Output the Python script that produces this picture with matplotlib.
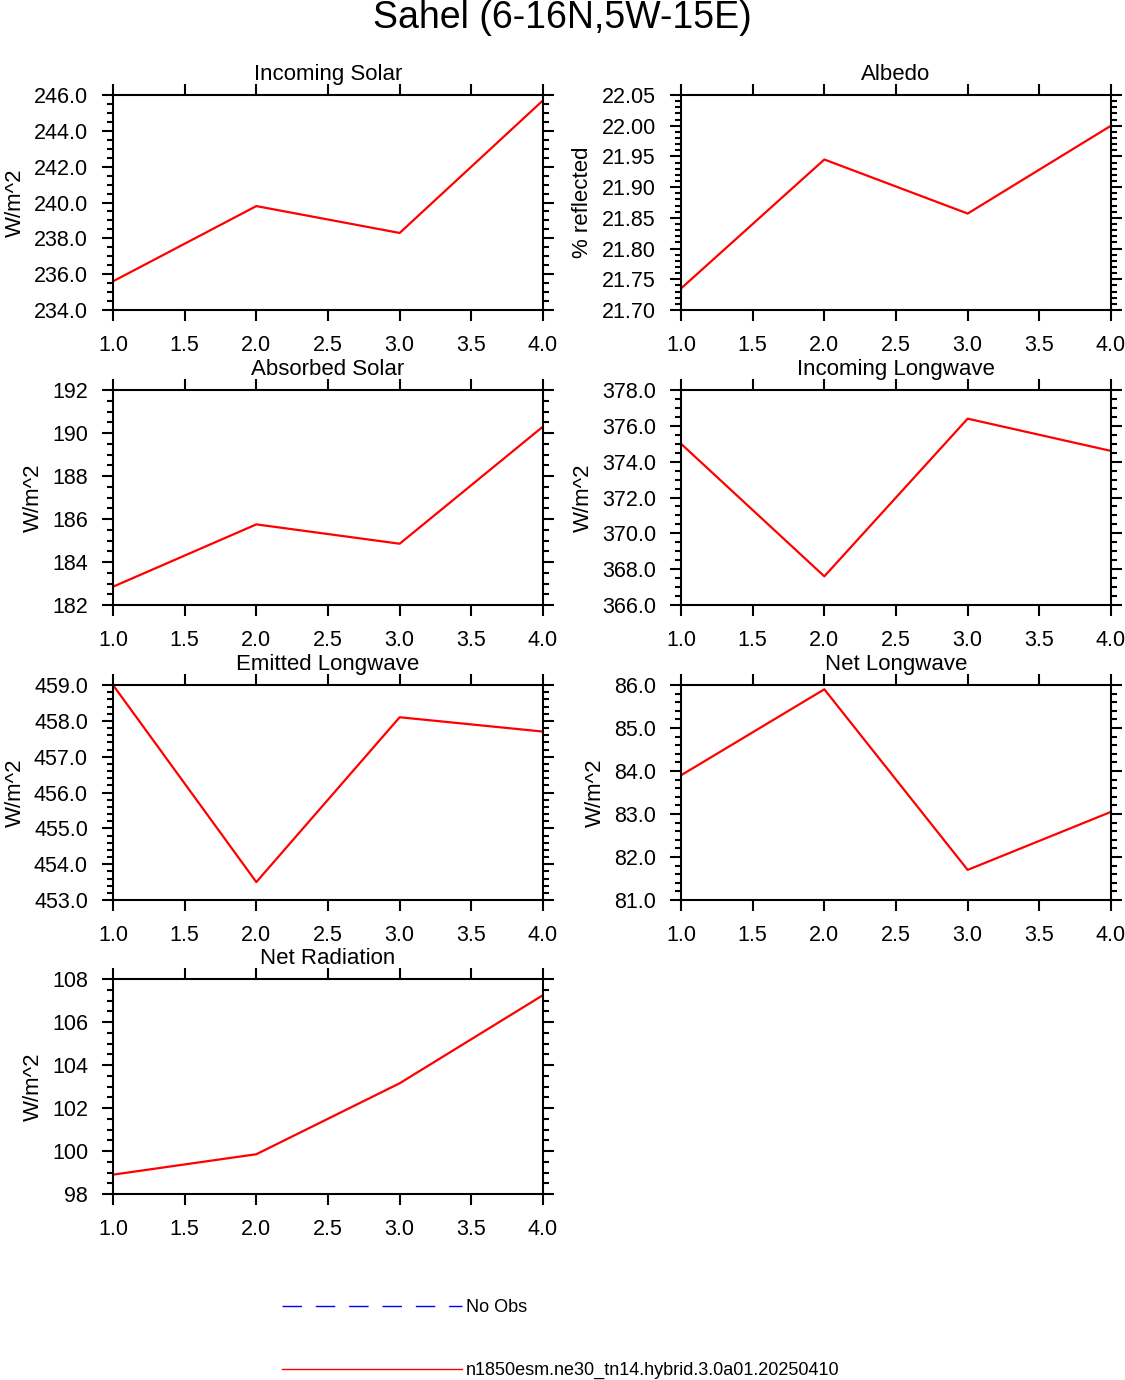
import matplotlib
matplotlib.use("Agg")
import matplotlib.pyplot as plt
from matplotlib.ticker import MultipleLocator, FormatStrFormatter

plt.rcParams['font.family'] = ['Liberation Sans', 'DejaVu Sans']

x = [1.0, 2.0, 3.0, 4.0]
titles = ["Incoming Solar", "Albedo", "Absorbed Solar", "Incoming Longwave",
          "Emitted Longwave", "Net Longwave", "Net Radiation"]
ylabels = ["W/m^2", "% reflected", "W/m^2", "W/m^2", "W/m^2", "W/m^2", "W/m^2"]
incoming_solar = [235.6, 239.8, 238.3, 245.7]
albedo = [21.735, 21.945, 21.857, 22.0]
absorbed_solar = [182.85, 185.75, 184.85, 190.3]
incoming_lw = [375.0, 367.6, 376.4, 374.6]
emitted_lw = [459.0, 453.5, 458.1, 457.7]
net_lw = [83.9, 85.9, 81.7, 83.05]
net_rad = [98.9, 99.85, 103.15, 107.25]
series = [incoming_solar, albedo, absorbed_solar, incoming_lw, emitted_lw, net_lw, net_rad]
ylims = [(234, 246), (21.70, 22.05), (182, 192), (366, 378), (453, 459), (81, 86), (98, 108)]
majors = [2, 0.05, 2, 2, 1, 1, 2]
minors = [0.5, 0.01, 0.5, 0.5, 0.2, 0.2, 0.5]
fmts = ["%.1f", "%.2f", "%.0f", "%.1f", "%.1f", "%.1f", "%.0f"]

W, H = 1125, 1380
fig = plt.figure(figsize=(W/100, H/100), dpi=100)
lefts = [113, 681]
tops = [95, 390, 685, 979]
for i in range(7):
    r, c = divmod(i, 2)
    ax = fig.add_axes([lefts[c]/W, 1-(tops[r]+215)/H, 430/W, 215/H])
    ax.plot(x, series[i], color='red', lw=1.6)
    ax.set_xlim(1, 4)
    ax.set_ylim(*ylims[i])
    ax.xaxis.set_major_locator(MultipleLocator(0.5))
    ax.xaxis.set_major_formatter(FormatStrFormatter("%.1f"))
    ax.yaxis.set_major_locator(MultipleLocator(majors[i]))
    ax.yaxis.set_minor_locator(MultipleLocator(minors[i]))
    ax.yaxis.set_major_formatter(FormatStrFormatter(fmts[i]))
    ax.tick_params(which='both', direction='out', top=True, right=True, labelsize=15.5, width=1.5)
    ax.tick_params(which='major', length=8, pad=10)
    ax.tick_params(which='minor', length=4)
    for s in ax.spines.values():
        s.set_linewidth(1.5)
    ax.set_title(titles[i], fontsize=16, pad=11)
    ax.set_ylabel(ylabels[i], fontsize=16, labelpad=6)

fig.text(0.5, 1-18/H, "Sahel (6-16N,5W-15E)", ha='center', va='center', fontsize=27)

lax = fig.add_axes([0, 0, 1, 1]); lax.axis('off'); lax.set_xlim(0, W); lax.set_ylim(H, 0)
lax.plot([282, 462], [1306, 1306], color='blue', lw=1, dashes=(14, 10))
lax.text(466, 1307, "No Obs", fontsize=13, va='center')
lax.plot([282, 462], [1369, 1369], color='red', lw=1)
lax.text(466, 1370, "n1850esm.ne30_tn14.hybrid.3.0a01.20250410", fontsize=13, va='center')

fig.savefig("out.png", dpi=100)
